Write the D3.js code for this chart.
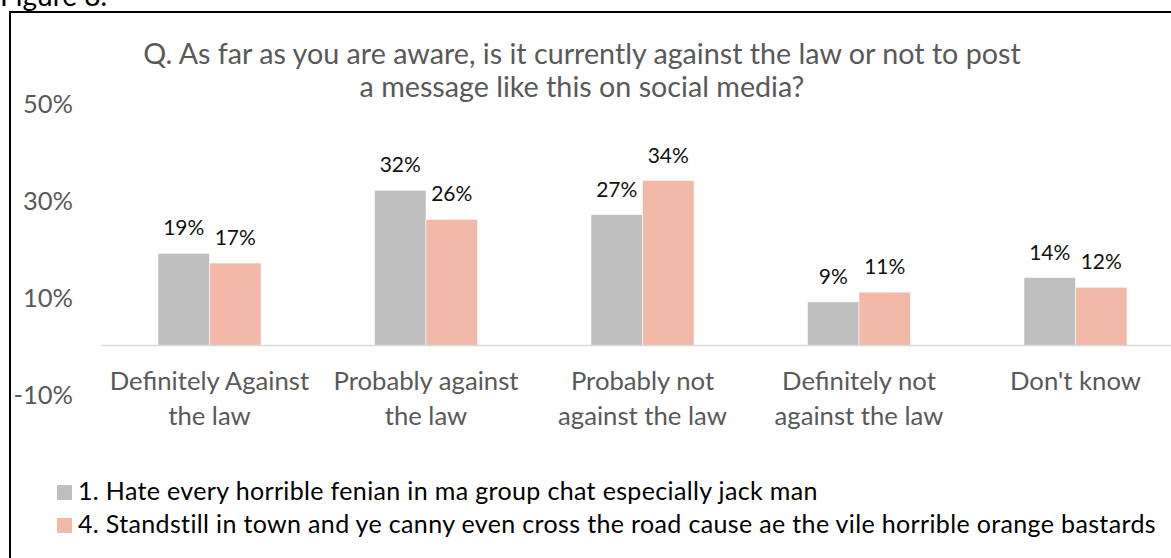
<!DOCTYPE html>
<html><head><meta charset="utf-8">
<script src="https://cdn.jsdelivr.net/npm/d3@7"></script>
<style>
html,body{margin:0;padding:0;background:#fff;overflow:hidden}
text{font-family:Lato,"Open Sans",sans-serif}
</style>
</head><body>
<svg id="chart" width="1171" height="558"></svg>
<script>
// Survey answers, share of respondents (%) per message
const categories = [
  "Definitely Against\nthe law",
  "Probably against\nthe law",
  "Probably not\nagainst the law",
  "Definitely not\nagainst the law",
  "Don't know"
];
const seriesNames = [
  "1. Hate every horrible fenian in ma group chat especially jack man",
  "4. Standstill in town and ye canny even cross the road cause ae the vile horrible orange bastards"
];
const series1 = [19, 32, 27, 9, 14];
const series4 = [17, 26, 34, 11, 12];
const yTicks = [-10, 10, 30, 50];
const titleLines = [
  "Q. As far as you are aware, is it currently against the law or not to post",
  "a message like this on social media?"
];
const figureLabel = "Figure 8.";
const seriesColors = ["#BFBFBF", "#F2B9A8"];

const allSeries = [series1, series4];
const svg = d3.select("#chart");

// caption above the frame
svg.append("text").attr("x", 0).attr("y", 6)
  .attr("font-size", 28).attr("fill", "#000").text(figureLabel);

// chart frame
svg.append("rect").attr("x", 10).attr("y", 12).attr("width", 1200).attr("height", 600)
  .attr("fill", "none").attr("stroke", "#000").attr("stroke-width", 2);

// scales
const x0 = d3.scaleBand().domain(d3.range(categories.length))
  .range([101.25, 1183.75]).paddingInner(0.524).paddingOuter(0.262);
const x1 = d3.scaleBand().domain(d3.range(allSeries.length)).range([0, x0.bandwidth()]);
const y = d3.scaleLinear().domain([-10, 50]).range([394, 103]);

// title
svg.append("g").selectAll("text").data(titleLines).join("text")
  .attr("x", 582).attr("y", (d, i) => 64 + i * 33)
  .attr("text-anchor", "middle").attr("font-size", 28.7).attr("fill", "#595959")
  .text(d => d);

// value axis labels
const yAxis = d3.axisLeft(y).tickValues(yTicks).tickSize(0).tickPadding(0)
  .tickFormat(d => d + "%");
const gy = svg.append("g").attr("transform", "translate(73,0)").call(yAxis);
gy.select(".domain").remove();
gy.selectAll("text").attr("font-size", 25.5).attr("fill", "#595959")
  .attr("font-family", "Lato").attr("dy", "0.36em");

// bars
const groups = svg.append("g").selectAll("g").data(categories).join("g")
  .attr("transform", (d, i) => `translate(${x0(i)},0)`);
groups.selectAll("rect")
  .data((d, i) => allSeries.map((s, k) => ({ k, v: s[i] })))
  .join("rect")
  .attr("x", d => x1(d.k)).attr("width", x1.bandwidth())
  .attr("y", d => y(d.v)).attr("height", d => y(0) - y(d.v))
  .attr("fill", d => seriesColors[d.k])
  .attr("stroke", "#fff").attr("stroke-opacity", 0.55).attr("stroke-width", 1);

// data labels
groups.selectAll("text.val")
  .data((d, i) => allSeries.map((s, k) => ({ k, v: s[i] })))
  .join("text").attr("class", "val")
  .attr("x", d => x1(d.k) + x1.bandwidth() / 2)
  .attr("y", d => y(d.v) - 18)
  .attr("text-anchor", "middle").attr("font-size", 21).attr("fill", "#111")
  .text(d => d.v + "%");

// category axis line
svg.append("line").attr("x1", 101).attr("x2", 1184)
  .attr("y1", y(0)).attr("y2", y(0))
  .attr("stroke", "#D9D9D9").attr("stroke-width", 1.5);

// category labels (two lines each)
const cat = svg.append("g").selectAll("text").data(categories).join("text")
  .attr("text-anchor", "middle").attr("font-size", 25.7).attr("fill", "#595959");
cat.selectAll("tspan").data((d, i) => d.split("\n").map(t => ({ t, i })))
  .join("tspan")
  .attr("x", d => x0(d.i) + x0.bandwidth() / 2)
  .attr("y", (d, j) => 390 + j * 35)
  .text(d => d.t);

// legend
const leg = svg.append("g").selectAll("g").data(seriesNames).join("g")
  .attr("transform", (d, i) => `translate(57,${500 + i * 33})`);
leg.append("rect").attr("x", 0).attr("y", -15).attr("width", 15).attr("height", 15)
  .attr("fill", (d, i) => seriesColors[i]);
leg.append("text").attr("x", 21).attr("y", 0).attr("font-size", 25)
  .attr("letter-spacing", 0.35).attr("fill", "#000")
  .text(d => d);
</script>
</body></html>
